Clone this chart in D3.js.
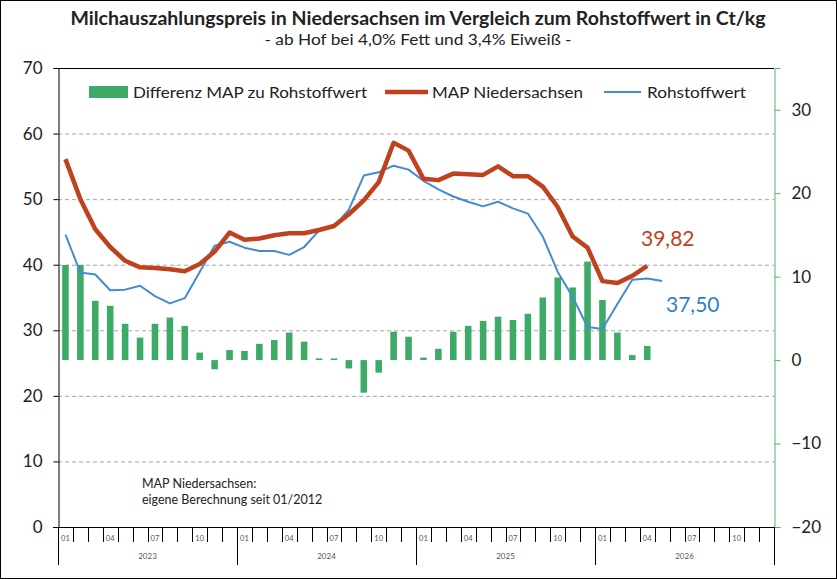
<!DOCTYPE html>
<html>
<head>
    <meta charset="utf-8" />
    <title>Milchauszahlungspreis Niedersachsen</title>
    <script src="https://cdn.jsdelivr.net/npm/d3@7"></script>
    <style>
        body { margin: 0; background: #fff; }
        svg text { font-family: Lato, "Open Sans", sans-serif; fill: #222; }
        .grid line { stroke: #a6a6a6; stroke-dasharray: 4 3; }
    </style>
</head>
<body>
    <svg id="chart" width="837" height="579"></svg>
    <script>
        // Kategorien
        var years = ["2023", "2024", "2025", "2026"];
        var monthTicks = ["01", "04", "07", "10"];

        // MAP Niedersachsen (Ct/kg), 01/2023 - 04/2026
        var mapValues = [
            56.1, 50.0, 45.4, 42.7, 40.6, 39.6, 39.5, 39.3, 39.0, 40.1, 42.0, 44.9,
            43.8, 44.0, 44.5, 44.8, 44.8, 45.3, 45.9, 47.7, 49.8, 52.6, 58.6, 57.4,
            53.1, 52.9, 53.9, 53.8, 53.7, 55.0, 53.5, 53.5, 51.9, 48.8, 44.3, 42.6,
            37.5, 37.2, 38.3, 39.82
        ];
        // Rohstoffwert (Ct/kg), 01/2023 - 05/2026
        var rohValues = [
            44.6, 38.8, 38.5, 36.1, 36.2, 36.8, 35.2, 34.1, 34.9, 38.9, 42.9, 43.5,
            42.6, 42.1, 42.1, 41.5, 42.7, 45.2, 45.8, 48.4, 53.6, 54.1, 55.1, 54.5,
            52.8, 51.5, 50.4, 49.6, 48.9, 49.6, 48.6, 47.8, 44.3, 38.9, 35.1, 30.5,
            30.2, 34.0, 37.7, 37.9, 37.5
        ];
        // Differenz MAP zu Rohstoffwert (rechte Achse)
        var diffValues = [
            11.4, 11.4, 7.1, 6.5, 4.35, 2.7, 4.35, 5.1, 4.1, 0.9, -1.1, 1.2,
            1.1, 1.95, 2.4, 3.3, 2.2, 0.2, 0.2, -1.0, -3.9, -1.5, 3.4, 2.8,
            0.3, 1.35, 3.4, 4.1, 4.7, 5.2, 4.8, 5.55, 7.5, 9.9, 8.7, 11.8,
            7.2, 3.3, 0.6, 1.7
        ];
        var leftTicks = [0, 10, 20, 30, 40, 50, 60, 70];
        var rightTicks = [-20, -10, 0, 10, 20, 30];

        var red = "#c0411d", blue = "#448bd5", green = "#3dab67", axisGreen = "#4cba6e";

        var months = [];
        years.forEach(function (y) {
            for (var m = 1; m <= 12; m++) months.push(y + "-" + (m < 10 ? "0" + m : m));
        });

        var L = 58, R = 774, T = 68, B = 527;
        var svg = d3.select("#chart");

        svg.append("rect").attr("x", 0.5).attr("y", 0.5).attr("width", 836).attr("height", 578)
            .attr("fill", "#fff").attr("stroke", "#000");

        var x = d3.scaleBand().domain(months).range([L, R]).paddingInner(0.56).paddingOuter(0.28);
        var cx = function (i) { return x(months[i]) + x.bandwidth() / 2; };
        var y = d3.scaleLinear().domain([0, 70]).range([B, T]);
        var y2 = d3.scaleLinear().domain([-20, 35]).range([B, T]);

        // Gitterlinien
        svg.append("g").attr("class", "grid").selectAll("line")
            .data([10, 20, 30, 40, 50, 60]).enter().append("line")
            .attr("x1", L).attr("x2", R)
            .attr("y1", function (d) { return y(d) + 0.5; })
            .attr("y2", function (d) { return y(d) + 0.5; });

        // Balken
        svg.append("g").selectAll("rect").data(diffValues).enter().append("rect")
            .attr("x", function (d, i) { return x(months[i]); })
            .attr("width", x.bandwidth())
            .attr("y", function (d) { return y2(Math.max(0, d)); })
            .attr("height", function (d) { return Math.abs(y2(d) - y2(0)); })
            .attr("fill", green);

        // Linien
        var line = d3.line().x(function (d, i) { return cx(i); }).y(function (d) { return y(d); });
        svg.append("path").datum(rohValues).attr("d", line)
            .attr("fill", "none").attr("stroke", blue).attr("stroke-width", 2).attr("stroke-linejoin", "round");
        svg.append("path").datum(mapValues).attr("d", line)
            .attr("fill", "none").attr("stroke", red).attr("stroke-width", 4.5).attr("stroke-linejoin", "round");

        // obere Linie
        svg.append("line").attr("x1", L).attr("x2", R).attr("y1", T + 0.5).attr("y2", T + 0.5).attr("stroke", "#000");

        // linke Achse
        var yAxis = svg.append("g").attr("transform", "translate(" + (L + 0.5) + ",0)")
            .call(d3.axisLeft(y).tickValues(leftTicks).tickSize(5).tickPadding(11));
        yAxis.select(".domain").attr("stroke", "#000");
        yAxis.selectAll("text").style("font-size", "17px").attr("fill", "#222");

        // rechte Achse
        var y2Axis = svg.append("g").attr("transform", "translate(" + (R + 0.5) + ",0)")
            .call(d3.axisRight(y2).tickValues(rightTicks).tickSize(6).tickPadding(11));
        y2Axis.select(".domain").attr("stroke", axisGreen);
        y2Axis.selectAll(".tick line").attr("stroke", axisGreen);
        y2Axis.selectAll("text").style("font-size", "17px").attr("fill", "#222");

        // untere Achse
        var xg = svg.append("g");
        xg.append("line").attr("x1", L - 5).attr("x2", R).attr("y1", B + 0.5).attr("y2", B + 0.5).attr("stroke", "#000");
        var step = x.step();
        xg.selectAll("line.mt").data(d3.range(months.length + 1)).enter().append("line")
            .attr("class", "mt")
            .attr("x1", function (i) { return Math.round(L + i * step) + 0.5; })
            .attr("x2", function (i) { return Math.round(L + i * step) + 0.5; })
            .attr("y1", B)
            .attr("y2", function (i) { return i % 12 === 0 ? 565 : 542; })
            .attr("stroke", "#000");
        xg.selectAll("text.ml").data(months.filter(function (m) {
            return monthTicks.indexOf(m.slice(5)) >= 0;
        })).enter().append("text")
            .attr("class", "ml")
            .attr("x", function (m) { return cx(months.indexOf(m)); })
            .attr("y", 541)
            .attr("text-anchor", "middle")
            .style("font-size", "7.5px").style("fill", "#555")
            .text(function (m) { return m.slice(5); });
        xg.selectAll("text.yl").data(years).enter().append("text")
            .attr("class", "yl")
            .attr("x", function (yr, i) { return L + (i * 12 + 6) * step; })
            .attr("y", 559)
            .attr("text-anchor", "middle")
            .style("font-size", "8px").style("fill", "#555")
            .text(function (yr) { return yr; });

        // Titel
        svg.append("text").attr("x", 418).attr("y", 25).attr("text-anchor", "middle")
            .attr("textLength", 695).attr("lengthAdjust", "spacingAndGlyphs")
            .style("font-size", "18px").style("font-weight", "bold")
            .text("Milchauszahlungspreis in Niedersachsen im Vergleich zum Rohstoffwert in Ct/kg");
        svg.append("text").attr("x", 418).attr("y", 45).attr("text-anchor", "middle")
            .attr("textLength", 307).attr("lengthAdjust", "spacingAndGlyphs")
            .style("font-size", "15px")
            .text("- ab Hof bei 4,0% Fett und 3,4% Eiweiß -");

        // Legende
        var lg = svg.append("g");
        lg.append("rect").attr("x", 89).attr("y", 86).attr("width", 39).attr("height", 12).attr("fill", green);
        lg.append("text").attr("x", 133).attr("y", 98).attr("textLength", 234).attr("lengthAdjust", "spacingAndGlyphs")
            .style("font-size", "16px").text("Differenz MAP zu Rohstoffwert");
        lg.append("line").attr("x1", 385).attr("x2", 428).attr("y1", 92).attr("y2", 92)
            .attr("stroke", red).attr("stroke-width", 4.5);
        lg.append("text").attr("x", 432).attr("y", 98).attr("textLength", 151).attr("lengthAdjust", "spacingAndGlyphs")
            .style("font-size", "16px").text("MAP Niedersachsen");
        lg.append("line").attr("x1", 604).attr("x2", 641).attr("y1", 92).attr("y2", 92)
            .attr("stroke", blue).attr("stroke-width", 2);
        lg.append("text").attr("x", 647).attr("y", 98).attr("textLength", 99).attr("lengthAdjust", "spacingAndGlyphs")
            .style("font-size", "16px").text("Rohstoffwert");

        // Werte-Beschriftungen
        svg.append("text").attr("x", 641).attr("y", 246).style("font-size", "21px").style("fill", red)
            .text(d3.format(".2f")(mapValues[mapValues.length - 1]).replace(".", ","));
        svg.append("text").attr("x", 666).attr("y", 312).style("font-size", "21px").style("fill", "#2f80cc")
            .text(d3.format(".2f")(rohValues[rohValues.length - 1]).replace(".", ","));

        // Hinweis
        svg.append("text").attr("x", 142).attr("y", 488).style("font-size", "12.5px").text("MAP Niedersachsen:");
        svg.append("text").attr("x", 142).attr("y", 504).style("font-size", "12.5px").text("eigene Berechnung seit 01/2012");
    </script>
</body>
</html>
